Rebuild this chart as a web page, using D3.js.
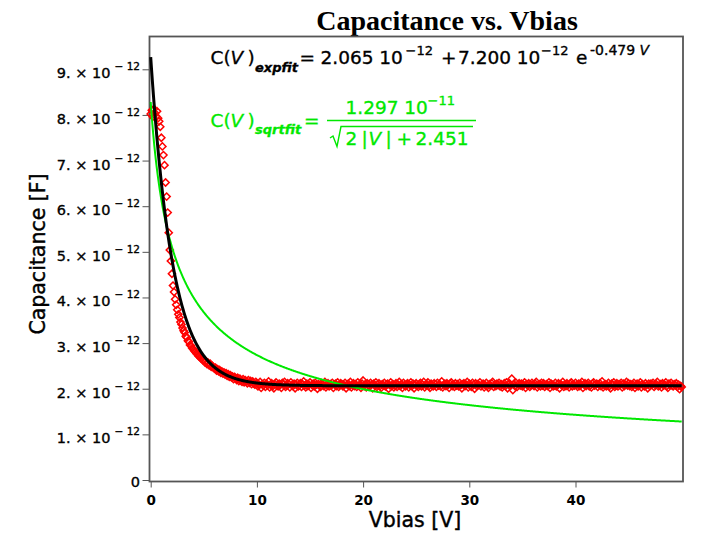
<!DOCTYPE html>
<html>
<head>
<meta charset="utf-8">
<script src="https://cdn.jsdelivr.net/npm/d3@7"></script>
<style>
  html, body { margin: 0; padding: 0; background: #fff; }
  svg { display: block; }
</style>
</head>
<body>
<svg id="chart" width="705" height="533"></svg>
<script>
// ---- chart data -------------------------------------------------------
const chartTitle = "Capacitance vs. Vbias";
const xTitle = "Vbias [V]";
const yTitle = "Capacitance [F]";

const xTicks = [0, 10, 20, 30, 40];
const xMinorTicks = [5, 15, 25, 35, 45];
const yTicksPico = [0, 1, 2, 3, 4, 5, 6, 7, 8, 9];          // × 10^-12 F
const yMinorTicksPico = [0.5, 1.5, 2.5, 3.5, 4.5, 5.5, 6.5, 7.5, 8.5];

// bias sweep: 0.0 V … 50.0 V in 0.1 V steps
const biasStart = 0, biasStep = 0.1;

// measured capacitance in pF, 0.0 V … 4.9 V
const capRise = [
  8.02, 8.10, 7.96, 8.13, 8.04, 7.97, 8.08, 7.93, 7.86, 7.74,
  7.50, 7.31, 7.12, 6.90, 6.52, 6.21, 5.86, 5.42, 5.04, 4.80,
  4.52, 4.26, 4.12, 3.96, 3.84, 3.73, 3.63, 3.56, 3.46, 3.41,
  3.33, 3.27, 3.23, 3.15, 3.12, 3.05, 3.03, 2.96, 2.94, 2.89,
  2.87, 2.83, 2.81, 2.77, 2.76, 2.72, 2.71, 2.67, 2.66, 2.63
];

// measured capacitance in pF, 5.0 V … 9.9 V
const capKnee = [
  2.62, 2.58, 2.60, 2.54, 2.57, 2.51, 2.55, 2.48, 2.50, 2.47,
  2.44, 2.46, 2.40, 2.43, 2.38, 2.41, 2.35, 2.38, 2.33, 2.36,
  2.31, 2.34, 2.28, 2.32, 2.26, 2.30, 2.25, 2.27, 2.21, 2.26,
  2.23, 2.19, 2.24, 2.17, 2.22, 2.18, 2.15, 2.21, 2.14, 2.19,
  2.16, 2.12, 2.19, 2.13, 2.17, 2.10, 2.16, 2.12, 2.09, 2.15
];

// measured capacitance in pF, 10.0 V … 50.0 V
const capPlateau = [
  2.12, 2.05, 2.09, 2.15, 2.02, 2.10, 2.07, 2.13, 2.04, 2.11,
  2.08, 2.16, 2.03, 2.09, 2.12, 2.06, 2.01, 2.10, 2.14, 2.07,
  2.05, 2.11, 2.08, 2.02, 2.13, 2.09, 2.15, 2.04, 2.07, 2.12,
  2.10, 2.03, 2.14, 2.08, 2.06, 2.11, 2.01, 2.09, 2.13, 2.05,
  2.08, 2.12, 2.04, 2.10, 2.16, 2.07, 2.03, 2.11, 2.06, 2.09,
  2.14, 2.02, 2.08, 2.11, 2.05, 2.13, 2.09, 2.00, 2.10, 2.07,
  2.04, 2.12, 2.09, 2.06, 2.15, 2.03, 2.08, 2.12, 2.05, 2.10,
  2.07, 2.13, 2.02, 2.09, 2.11, 2.06, 2.14, 2.04, 2.08, 2.12,
  2.10, 2.05, 2.08, 2.13, 2.01, 2.09, 2.11, 2.06, 2.15, 2.03,
  2.08, 2.12, 2.06, 2.10, 2.04, 2.14, 2.07, 2.09, 2.02, 2.11,
  2.18, 2.06, 2.10, 2.03, 2.12, 2.08, 2.05, 2.13, 2.09, 2.01,
  2.11, 2.07, 2.14, 2.04, 2.09, 2.12, 2.06, 2.02, 2.10, 2.08,
  2.13, 2.05, 2.09, 2.11, 2.00, 2.08, 2.14, 2.06, 2.10, 2.03,
  2.07, 2.12, 2.04, 2.09, 2.15, 2.06, 2.10, 2.02, 2.13, 2.08,
  2.05, 2.10, 2.12, 2.03, 2.08, 2.14, 2.06, 2.11, 2.01, 2.09,
  2.12, 2.07, 2.04, 2.10, 2.13, 2.05, 2.09, 2.15, 2.03, 2.08,
  2.10, 2.14, 2.06, 2.02, 2.11, 2.08, 2.05, 2.12, 2.09, 2.04,
  2.13, 2.07, 2.10, 2.05, 2.16, 2.03, 2.09, 2.11, 2.06, 2.12,
  2.08, 2.02, 2.11, 2.14, 2.06, 2.09, 2.04, 2.12, 2.07, 2.10,
  2.05, 2.13, 2.08, 2.01, 2.10, 2.12, 2.06, 2.09, 2.15, 2.03,
  2.11, 2.07, 2.04, 2.13, 2.09, 2.00, 2.12, 2.06, 2.10, 2.08,
  2.14, 2.05, 2.09, 2.11, 2.03, 2.08, 2.13, 2.06, 2.02, 2.10,
  2.07, 2.12, 2.15, 2.04, 2.09, 2.06, 2.11, 2.08, 2.13, 2.05,
  2.10, 2.03, 2.08, 2.12, 2.06, 2.14, 2.01, 2.09, 2.11, 2.07,
  2.22, 1.97, 2.10, 2.06, 2.13, 2.04, 2.09, 2.12, 2.07, 2.11,
  2.05, 2.09, 2.14, 2.02, 2.10, 2.07, 2.12, 2.04, 2.08, 2.13,
  2.09, 2.06, 2.11, 2.15, 2.03, 2.08, 2.10, 2.05, 2.13, 2.07,
  2.12, 2.04, 2.08, 2.10, 2.06, 2.14, 2.02, 2.11, 2.09, 2.05,
  2.07, 2.13, 2.05, 2.09, 2.12, 2.01, 2.10, 2.08, 2.15, 2.04,
  2.10, 2.06, 2.12, 2.08, 2.03, 2.11, 2.14, 2.05, 2.09, 2.07,
  2.13, 2.08, 2.04, 2.11, 2.06, 2.10, 2.15, 2.02, 2.09, 2.12,
  2.06, 2.10, 2.13, 2.05, 2.08, 2.03, 2.11, 2.14, 2.07, 2.09,
  2.11, 2.04, 2.09, 2.12, 2.06, 2.16, 2.03, 2.08, 2.10, 2.05,
  2.08, 2.13, 2.06, 2.01, 2.11, 2.09, 2.14, 2.04, 2.07, 2.12,
  2.05, 2.10, 2.08, 2.13, 2.03, 2.11, 2.06, 2.09, 2.15, 2.07,
  2.12, 2.06, 2.10, 2.04, 2.09, 2.13, 2.02, 2.08, 2.11, 2.05,
  2.09, 2.14, 2.03, 2.10, 2.07, 2.05, 2.12, 2.08, 2.01, 2.11,
  2.06, 2.11, 2.09, 2.13, 2.04, 2.08, 2.10, 2.15, 2.05, 2.07,
  2.10, 2.03, 2.12, 2.07, 2.09, 2.14, 2.06, 2.02, 2.11, 2.08,
  2.13, 2.07, 2.05, 2.10, 2.08, 2.12, 2.04, 2.09, 1.99, 2.06,
  2.04
];

// fit parameters (farads, 1/V)
const expFit = [2.065e-12, 7.200e-12, 0.479];   // C0 + C1·exp(-k·V)
const sqrtFit = [1.297e-11, 2, 2.451];          // A / sqrt(b·|V| + c)

// ---- colours and fonts ------------------------------------------------
const RED = "#ff0000";
const GREEN = "#00e800";
const FRAME = "#555555";
const SANS = "'DejaVu Sans', Verdana, sans-serif";
const SERIF = "'Liberation Serif', 'Times New Roman', serif";
const PICO = 1e-12;

// ---- assemble the measurements ----------------------------------------
const measured = [...capRise, ...capKnee, ...capPlateau]
  .map((c, i) => ({ v: biasStart + i * biasStep, c: c * PICO }));

const fitVoltages = d3.range(0, 50.0001, 0.05);
const expCurve = fitVoltages.map(v => ({ v, c: expFit[0] + expFit[1] * Math.exp(-expFit[2] * v) }));
const sqrtCurve = fitVoltages.map(v => ({ v, c: sqrtFit[0] / Math.sqrt(sqrtFit[1] * Math.abs(v) + sqrtFit[2]) }));

// ---- scales -------------------------------------------------------------
const svg = d3.select("#chart");
const frame = { left: 149.5, right: 683, top: 36.5, bottom: 481.5 };

const x = d3.scaleLinear().domain([0, 50]).range([150.7, 681.7]);
const y = d3.scaleLinear().domain([0, 9 * PICO]).range([480, 69.3]);

// slightly heavier text, like the original plotting device
function heavy(sel, color, w) {
  return sel.attr("stroke", color).attr("stroke-width", w).attr("paint-order", "stroke");
}

// ---- title --------------------------------------------------------------
svg.append("text")
  .attr("x", 447).attr("y", 29.5)
  .attr("text-anchor", "middle")
  .attr("font-family", SERIF).attr("font-weight", "bold").attr("font-size", 28)
  .text(chartTitle);

// ---- axes ---------------------------------------------------------------
const yAxisG = svg.append("g").attr("transform", `translate(${frame.left},0)`);
yAxisG.call(d3.axisLeft(y).tickValues(yMinorTicksPico.map(d => d * PICO)).tickSize(4).tickFormat(""));
yAxisG.call(d3.axisLeft(y).tickValues(yTicksPico.map(d => d * PICO)).tickSize(7).tickPadding(2.5));
yAxisG.select(".domain").remove();
yAxisG.selectAll(".tick line").attr("stroke", FRAME);
yAxisG.selectAll(".tick text").each(function (d) {
  const t = d3.select(this);
  const k = Math.round(d / PICO);
  t.text(null)
    .attr("dy", null)
    .attr("fill", "#000")
    .attr("font-family", SANS)
    .attr("font-size", 14.5);
  heavy(t, "#000", 0.35);
  if (k === 0) {
    t.attr("y", 6).text("0");
  } else {
    t.attr("y", 8.5);
    t.append("tspan").text(`${k}. × 10`);
    t.append("tspan").attr("dy", -8).attr("dx", 4).attr("font-size", 10.5).text("− 12");
  }
});

const xAxisG = svg.append("g").attr("transform", `translate(0,${frame.bottom})`);
xAxisG.call(d3.axisBottom(x).tickValues(xMinorTicks).tickSize(3).tickFormat(""));
xAxisG.call(d3.axisBottom(x).tickValues(xTicks).tickSize(6));
xAxisG.select(".domain").remove();
xAxisG.selectAll(".tick line").attr("stroke", FRAME);
xAxisG.selectAll(".tick text")
  .attr("dy", null).attr("y", 23)
  .attr("fill", "#000")
  .attr("font-family", SANS).attr("font-weight", "bold").attr("font-size", 13.5);

// frame box
svg.append("rect")
  .attr("x", frame.left).attr("y", frame.top)
  .attr("width", frame.right - frame.left).attr("height", frame.bottom - frame.top)
  .attr("fill", "none").attr("stroke", FRAME).attr("stroke-width", 1.8);

// axis titles
heavy(svg.append("text")
  .attr("x", 415).attr("y", 527)
  .attr("text-anchor", "middle")
  .attr("font-family", SANS).attr("font-size", 20.5)
  .text(xTitle), "#000", 0.4);

heavy(svg.append("text")
  .attr("transform", "translate(45,254) rotate(-90)")
  .attr("text-anchor", "middle")
  .attr("font-family", SANS).attr("font-size", 20.5)
  .text(yTitle), "#000", 0.4);

// ---- data marks -----------------------------------------------------------
const diamond = "M0,-3.6L3.6,0L0,3.6L-3.6,0Z";
svg.append("g")
  .selectAll("path")
  .data(measured)
  .join("path")
  .attr("d", diamond)
  .attr("transform", d => `translate(${x(d.v)},${y(d.c)})`)
  .attr("fill", "none")
  .attr("stroke", RED)
  .attr("stroke-width", 1.5);

const line = d3.line().x(d => x(d.v)).y(d => y(d.c));

svg.append("path")
  .datum(sqrtCurve)
  .attr("d", line)
  .attr("fill", "none").attr("stroke", GREEN).attr("stroke-width", 2);

svg.append("path")
  .datum(expCurve)
  .attr("d", line)
  .attr("fill", "none").attr("stroke", "#000").attr("stroke-width", 3);

// ---- fit equations ------------------------------------------------------
function piece(g, txt, px, py, opts = {}) {
  const t = g.append("text")
    .attr("x", px).attr("y", py)
    .attr("font-family", SANS)
    .attr("font-size", opts.size || 18.5)
    .attr("font-style", opts.italic ? "italic" : null)
    .attr("font-weight", opts.bold ? "bold" : null);
  if (typeof txt === "string") t.text(txt);
  else txt(t);
  return t;
}

const eqExp = svg.append("g").attr("fill", "#000");
heavy(eqExp, "#000", 0.35);
piece(eqExp, "C(", 210.5, 63.5);
piece(eqExp, "V", 230.5, 63.5, { italic: true });
piece(eqExp, ")", 247.5, 63.5);
piece(eqExp, "expfit", 255, 71.5, { size: 13, italic: true, bold: true });
piece(eqExp, "=", 299.5, 63.5);
piece(eqExp, `${(expFit[0] / PICO).toFixed(3)} 10`, 320.5, 63.5);
piece(eqExp, "−12", 405.5, 54.5, { size: 13 });
piece(eqExp, "+", 441, 63.5);
piece(eqExp, `${(expFit[1] / PICO).toFixed(3)} 10`, 458, 63.5);
piece(eqExp, "−12", 541, 54.5, { size: 13 });
piece(eqExp, "e", 576, 63.5);
piece(eqExp, t => {
  t.append("tspan").text(`-${expFit[2].toFixed(3)} `);
  t.append("tspan").attr("font-style", "italic").text("V");
}, 590, 54.5, { size: 14 });

const eqSqrt = svg.append("g").attr("fill", GREEN);
heavy(eqSqrt, GREEN, 0.35);
piece(eqSqrt, "C(", 210.5, 127);
piece(eqSqrt, "V", 230.5, 127, { italic: true });
piece(eqSqrt, ")", 247.5, 127);
piece(eqSqrt, "sqrtfit", 255, 134, { size: 13, italic: true, bold: true });
piece(eqSqrt, "=", 304, 127);
piece(eqSqrt, `${(sqrtFit[0] / 1e-11).toFixed(3)} 10`, 345.5, 113.5);
piece(eqSqrt, "−11", 427.5, 104.5, { size: 13 });
piece(eqSqrt, `${sqrtFit[1]}`, 345.5, 145);
piece(eqSqrt, "|", 361.5, 145);
piece(eqSqrt, "V", 368.5, 145, { italic: true });
piece(eqSqrt, "|", 385.5, 145);
piece(eqSqrt, "+", 396.5, 145);
piece(eqSqrt, sqrtFit[2].toFixed(3), 415.5, 145);

svg.append("line")
  .attr("x1", 327).attr("x2", 476).attr("y1", 120.5).attr("y2", 120.5)
  .attr("stroke", GREEN).attr("stroke-width", 1.4);
svg.append("path")
  .attr("d", "M330,138L333,136L337,146.5L341,126.5L473,126.5")
  .attr("fill", "none").attr("stroke", GREEN).attr("stroke-width", 1.4);
</script>
</body>
</html>
